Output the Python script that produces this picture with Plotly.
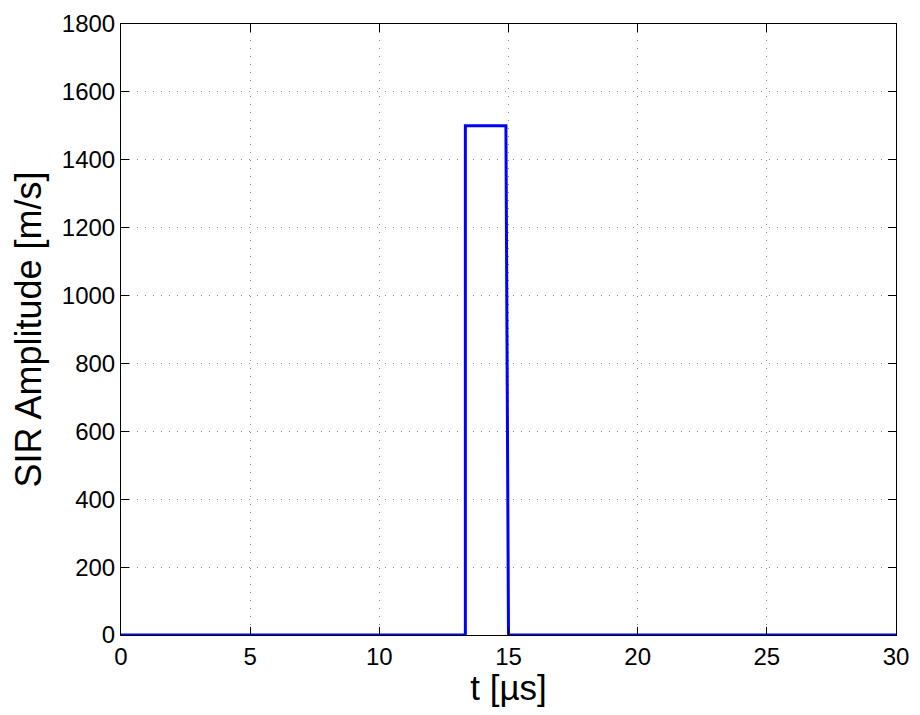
import plotly.graph_objects as go

t_us = [0, 13.33, 13.33, 14.9, 15.0, 30]
sir = [0, 0, 1500, 1500, 0, 0]

x_ticks = [0, 5, 10, 15, 20, 25, 30]
y_ticks = [0, 200, 400, 600, 800, 1000, 1200, 1400, 1600, 1800]

fig = go.Figure()
fig.add_trace(go.Scatter(x=t_us, y=sir, mode="lines",
                         line=dict(color="#0000ff", width=3), showlegend=False))

font_fam = "Liberation Sans, Arial, Helvetica, sans-serif"
axis_common = dict(
    showline=True, linecolor="black", linewidth=1, mirror="ticks",
    ticks="inside", ticklen=8, tickcolor="black", tickwidth=1,
    showgrid=True, gridcolor="#8c8c8c", griddash="1px,7px", gridwidth=1,
    zeroline=False, tickfont=dict(family=font_fam, size=24, color="black"),
)

fig.update_layout(
    width=904, height=699,
    margin=dict(l=113, r=16, t=16, b=72),
    paper_bgcolor="white", plot_bgcolor="white",
    xaxis=dict(range=[0, 30], tickvals=x_ticks, ticktext=[str(v) for v in x_ticks],
               title=dict(text="t [µs]", font=dict(family=font_fam, size=35, color="black"), standoff=0),
               automargin=False, **axis_common),
    yaxis=dict(range=[0, 1800], tickvals=y_ticks, ticktext=[str(v) for v in y_ticks],
               title=dict(text="SIR Amplitude [m/s]", font=dict(family=font_fam, size=36, color="black"), standoff=12),
               automargin=False, **axis_common),
)

fig.write_html("out.html")
